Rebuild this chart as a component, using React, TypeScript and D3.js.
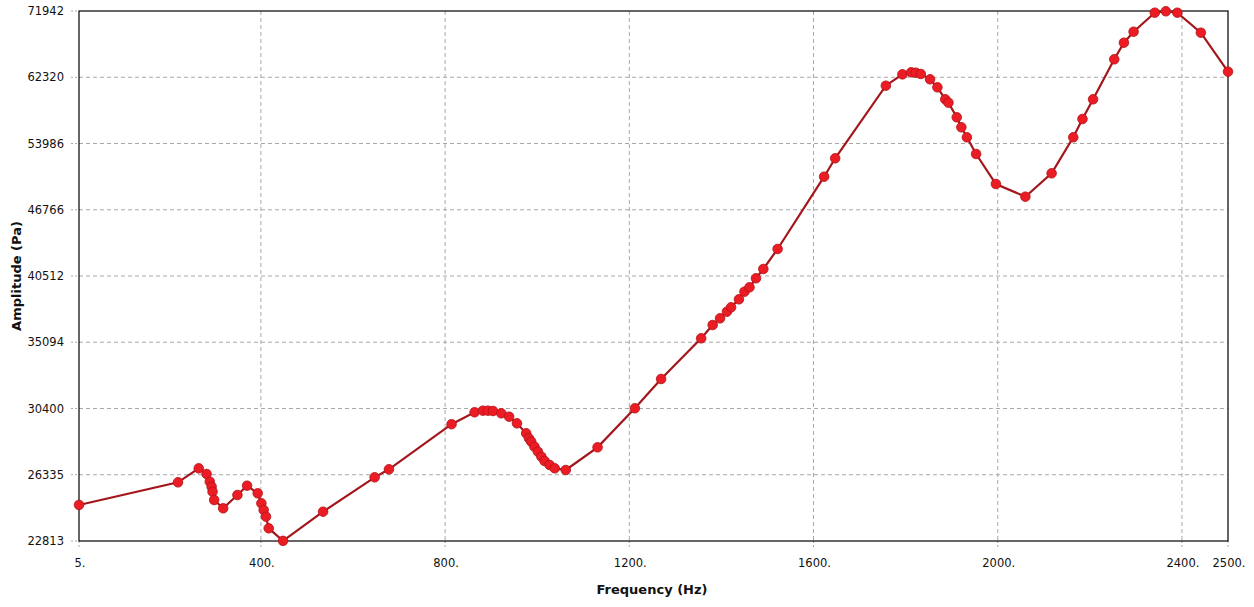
import React from 'react'
import { scaleLinear, scaleLog, line } from 'd3'

// frequency (Hz)
const freq = [
  5, 220, 265, 282, 289, 293, 295, 298.5, 318, 349, 370, 393, 401, 406, 411, 417, 448,
  535, 647, 678, 814, 864, 882, 893, 904, 922, 939, 956, 976, 982, 987, 994, 1001.5,
  1009, 1016, 1027, 1038, 1062, 1131, 1212, 1269, 1356, 1381, 1397, 1412, 1421, 1438,
  1450, 1461, 1475, 1491, 1522, 1623, 1647, 1757, 1793, 1812, 1822, 1833, 1853, 1869,
  1886, 1893, 1911, 1921, 1933, 1953, 1996, 2060, 2117, 2164, 2184, 2207, 2253, 2274,
  2295, 2341, 2365, 2390, 2441, 2500,
]

// amplitude (Pa)
const amplitude = [
  24666, 25907, 26705, 26379, 25941, 25662, 25385, 24933, 24488, 25204, 25717, 25297,
  24755, 24398, 24047, 23450, 22820, 24309, 26189, 26648, 29383, 30152, 30257, 30257,
  30237, 30086, 29865, 29440, 28810, 28500, 28291, 27986, 27684, 27386, 27131, 26897,
  26705, 26607, 27948, 30415, 32408, 35395, 36430, 36962, 37495, 37854, 38517, 39157,
  39532, 40311, 41132, 42953, 50239, 52283, 61189, 62717, 62991, 62936, 62761, 62045,
  60977, 59412, 58976, 57140, 55915, 54715, 52771, 49450, 48108, 50608, 54715, 56930,
  59412, 64791, 67164, 68785, 71677, 71900, 71677, 68637, 63076,
]

const xTicks = [5, 400, 800, 1200, 1600, 2000, 2400, 2500]
const yTicks = [22813, 26335, 30400, 35094, 40512, 46766, 53986, 62320, 71942]

const W = 1254
const H = 607
const left = 79
const right = 1228
const top = 11
const bottom = 541
const font = 'DejaVu Sans, Verdana, sans-serif'

export default function App() {
  const x = scaleLinear().domain([5, 2500]).range([left, right])
  const y = scaleLog().domain([22813, 71942]).range([bottom, top])

  const pts = freq.map((f, i) => [x(f), y(amplitude[i])] as [number, number])
  const path = line()(pts) || ''

  return (
    <svg width={W} height={H} style={{ position: 'absolute', left: 0, top: 0, background: '#fff' }}>
      {/* grid */}
      {xTicks.slice(1, -1).map(t => (
        <line key={`gx${t}`} x1={x(t)} x2={x(t)} y1={top} y2={bottom}
          stroke="#a8a8a8" strokeWidth={1} strokeDasharray="4,3" />
      ))}
      {yTicks.slice(1, -1).map(t => (
        <line key={`gy${t}`} x1={left} x2={right} y1={y(t)} y2={y(t)}
          stroke="#a8a8a8" strokeWidth={1} strokeDasharray="4,3" />
      ))}

      {/* tick marks */}
      {xTicks.map(t => (
        <line key={`tx${t}`} x1={x(t)} x2={x(t)} y1={bottom} y2={bottom + 7}
          stroke="#a8a8a8" strokeWidth={1} strokeDasharray="2,2" />
      ))}
      {yTicks.map(t => (
        <line key={`ty${t}`} x1={left - 8} x2={left} y1={y(t)} y2={y(t)}
          stroke="#a8a8a8" strokeWidth={1} strokeDasharray="2,2" />
      ))}

      {/* frame */}
      <rect x={left} y={top} width={right - left} height={bottom - top}
        fill="none" stroke="#000" strokeWidth={1.2} />

      {/* tick labels */}
      {xTicks.map(t => (
        <text key={`lx${t}`} x={x(t) + 1} y={bottom + 26} textAnchor="middle"
          fontFamily={font} fontSize={11.5} fill="#111">{`${t}.`}</text>
      ))}
      {yTicks.map(t => (
        <text key={`ly${t}`} x={left - 15} y={y(t) + 4} textAnchor="end"
          fontFamily={font} fontSize={11.5} fill="#111">{t}</text>
      ))}

      {/* series */}
      <path d={path} fill="none" stroke="#a3161b" strokeWidth={2.2} />
      {pts.map((p, i) => (
        <circle key={`p${i}`} cx={p[0]} cy={p[1]} r={4.8}
          fill="#ec1c24" stroke="#b31017" strokeWidth={0.8} />
      ))}

      {/* axis titles */}
      <text x={652} y={594} textAnchor="middle" fontFamily={font} fontSize={13}
        fontWeight="bold" fill="#111">Frequency (Hz)</text>
      <text transform={`translate(21, ${(top + bottom) / 2}) rotate(-90)`} textAnchor="middle"
        fontFamily={font} fontSize={13} fontWeight="bold" fill="#111">Amplitude (Pa)</text>
    </svg>
  )
}
